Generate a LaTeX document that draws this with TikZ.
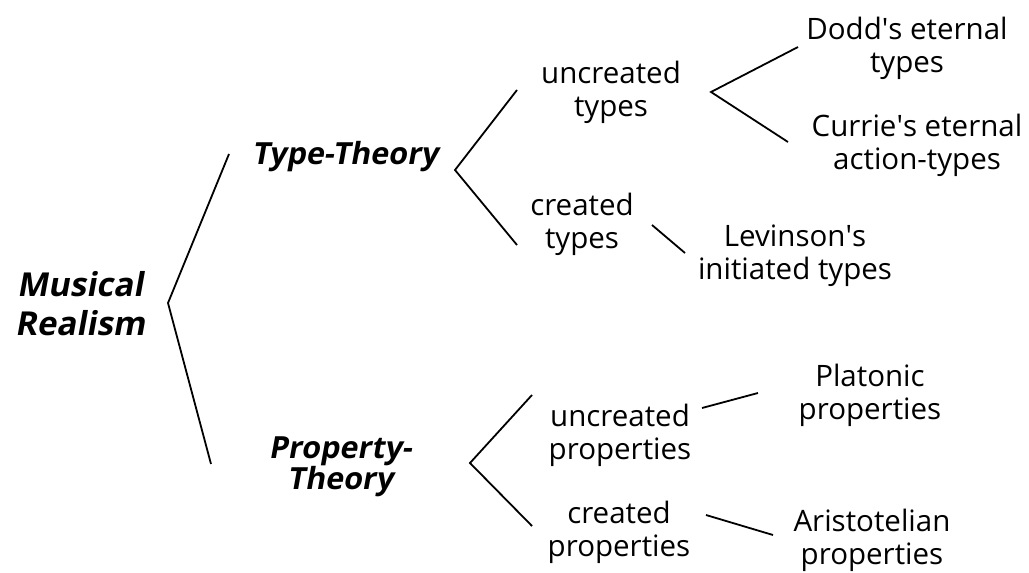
\documentclass[tikz,border=0pt]{standalone}
\usepackage{fontspec}
\setmainfont{Open Sans}
\newfontfamily\obliquebold{Open Sans}[FakeSlant=0.18]
\begin{document}
\begin{tikzpicture}[x=1pt,y=-1pt,
  leaf/.style={align=center,font=\fontsize{29.5}{33}\selectfont,inner sep=0pt},
  head/.style={align=center,font=\fontsize{30.5}{31}\selectfont\obliquebold\bfseries,inner sep=0pt},
  root/.style={align=center,font=\fontsize{33}{39}\selectfont\obliquebold\bfseries,inner sep=0pt},
  link/.style={draw,line width=1.8pt}]
\useasboundingbox (0,0) rectangle (1029,573);

% texts
\node[root] (mr) at (80,304) {Musical\\Realism};
\node[head] (tt) at (345,157) {Type-Theory};
\node[head] (pt) at (340,467) {Property-\\Theory};
\node[leaf] (ut) at (611,92) {uncreated\\types};
\node[leaf] (ct) at (582,224) {created\\types};
\node[leaf] (lv) at (795,256) {Levinson\textquotesingle s\\initiated types};
\node[leaf] (dd) at (907,48) {Dodd\textquotesingle s eternal\\types};
\node[leaf] (cu) at (917,145) {Currie\textquotesingle s eternal\\action-types};
\node[leaf] (up) at (620,435) {uncreated\\properties};
\node[leaf] (cp) at (619,532) {created\\properties};
\node[leaf] (pl) at (870,395) {Platonic\\properties};
\node[leaf] (ar) at (872,540) {Aristotelian\\properties};

% bracket points
\coordinate (v0) at (168,303);
\coordinate (v0a) at (229,154);
\coordinate (v0b) at (211,464);
\coordinate (v1) at (455,170);
\coordinate (v1a) at (517,90);
\coordinate (v1b) at (517,245);
\coordinate (v2) at (711,92);
\coordinate (v2b) at (788,142);
\coordinate (v2a) at (798,47);
\coordinate (v3) at (470,463);
\coordinate (v3a) at (532,395);
\coordinate (v3b) at (532,526);
\coordinate (c1) at (652,225);
\coordinate (c1b) at (685,253);
\coordinate (c2) at (702,408);
\coordinate (c2b) at (758,393);
\coordinate (c3) at (706,515);
\coordinate (c3b) at (773,535);

% connectors
\draw[link] (v0a) -- (v0) -- (v0b);
\draw[link] (v1a) -- (v1) -- (v1b);
\draw[link] (v2a) -- (v2) -- (v2b);
\draw[link] (v3a) -- (v3) -- (v3b);
\draw[link] (c1) -- (c1b);
\draw[link] (c2) -- (c2b);
\draw[link] (c3) -- (c3b);
\end{tikzpicture}
\end{document}
